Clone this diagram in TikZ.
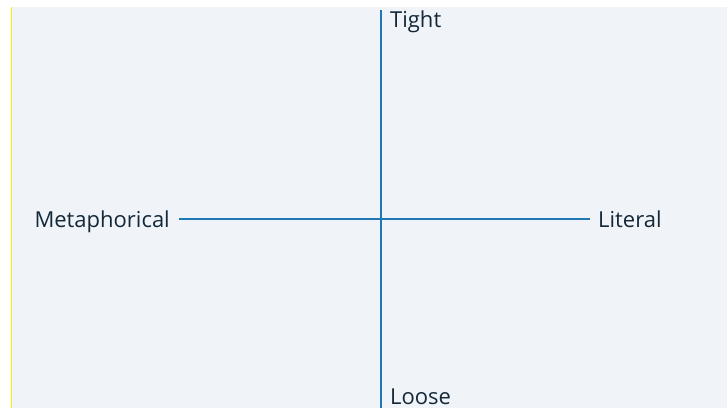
\documentclass[tikz,border=0pt]{standalone}
\usepackage{fontspec}
\setmainfont{Open Sans}
\definecolor{bgc}{HTML}{F0F4F8}
\definecolor{axisc}{HTML}{1F78B4}
\definecolor{txtc}{HTML}{14283A}
\definecolor{edgec}{HTML}{F5F500}
\begin{document}
\begin{tikzpicture}[x=1pt,y=-1pt,
  axisline/.style={draw=axisc,line width=2.5pt},
  lbl/.style={text=txtc,font=\fontsize{22}{26}\selectfont,inner sep=0pt}]
\useasboundingbox (0,0) rectangle (727,408);
\fill[bgc] (11,7) rectangle (727,408);
\draw[edgec,line width=1.5pt] (11.5,7) -- (11.5,408);
\coordinate (top) at (381,10);
\coordinate (bot) at (381,408);
\coordinate (lft) at (179,219);
\coordinate (rgt) at (590,219);
\draw[axisline] (top) -- (bot);
\draw[axisline] (lft) -- (rgt);
\node[lbl,anchor=base west] (tight) at (390,27) {Tight};
\node[lbl,anchor=base west] (loose) at (390,404) {Loose};
\node[lbl,anchor=base east] (meta) at (170,227) {Metaphorical};
\node[lbl,anchor=base west] (lit) at (598,227) {Literal};
\end{tikzpicture}
\end{document}
